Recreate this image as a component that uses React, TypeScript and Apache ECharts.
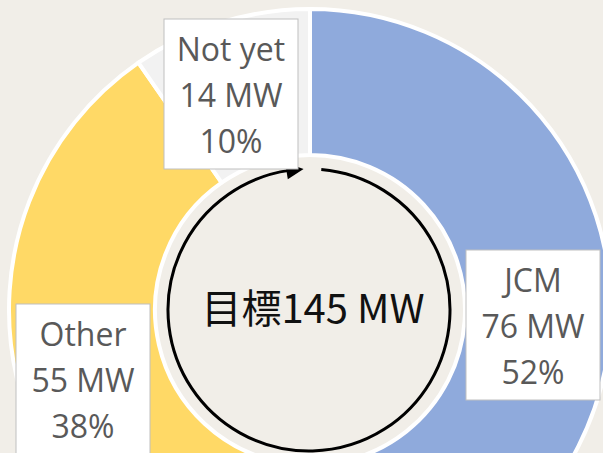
import React, { useEffect, useRef } from "react";
import * as echarts from "echarts";

const categories = ["JCM", "Other", "Not yet"];
const valuesMW = [76, 55, 14];
const unit = "MW";
const centerPrefix = "目標";
const colors = ["#8FAADC", "#FFD966", "#F2F2F2"];

const labelCenters: [number, number][] = [
  [533, 325],
  [83, 379],
  [231, 94],
];

export default function App() {
  const ref = useRef<HTMLDivElement>(null);
  useEffect(() => {
    if (!ref.current) return;
    const chart = echarts.init(ref.current, undefined, { renderer: "svg" });
    const total = valuesMW.reduce((a, b) => a + b, 0);
    const cx = 309;
    const cy = 310;
    const r = 141;
    const deg = Math.PI / 180;
    const startA = -85 * deg;
    const endA = 262 * deg;
    const tipA = 267.8 * deg;
    const baseA = 260.8 * deg;
    const hw = 8.5;
    const tip = [cx + r * Math.cos(tipA), cy + r * Math.sin(tipA)];
    const b1 = [cx + (r + hw) * Math.cos(baseA), cy + (r + hw) * Math.sin(baseA)];
    const b2 = [cx + (r - hw) * Math.cos(baseA), cy + (r - hw) * Math.sin(baseA)];

    chart.setOption({
      animation: false,
      backgroundColor: "#F1EEE8",
      series: [
        {
          type: "pie",
          center: [310, 310],
          radius: [155, 301],
          startAngle: 90,
          clockwise: true,
          avoidLabelOverlap: false,
          silent: true,
          itemStyle: { borderColor: "#FFFFFF", borderWidth: 4 },
          labelLine: { show: false },
          label: {
            show: true,
            position: "outside",
            formatter: (p: any) => `${p.name}\n${p.value} ${unit}\n${Math.round(p.percent)}%`,
            color: "#595959",
            fontSize: 32,
            fontFamily: "Open Sans",
            lineHeight: 46,
            align: "center",
            width: 121,
            backgroundColor: "#FFFFFF",
            borderColor: "#BFBFBF",
            borderWidth: 1,
            padding: [8, 6, 3, 6],
          },
          labelLayout: (params: any) => {
            const c = labelCenters[params.dataIndex];
            return { x: c[0], y: c[1], align: "center", verticalAlign: "middle", hideOverlap: false };
          },
          data: categories.map((name, i) => ({
            name,
            value: valuesMW[i],
            itemStyle: { color: colors[i] },
          })),
        },
      ],
      graphic: [
        {
          type: "arc",
          shape: { cx, cy, r, startAngle: startA, endAngle: endA, clockwise: true },
          style: { stroke: "#000000", lineWidth: 3, fill: null },
          silent: true,
        },
        {
          type: "polygon",
          shape: { points: [tip, b1, b2] },
          style: { fill: "#000000" },
          silent: true,
        },
        {
          type: "text",
          x: cx + 4,
          y: 306,
          style: {
            text: `${centerPrefix}${total} ${unit}`,
            fill: "#111111",
            font: '40px "Noto Sans CJK JP", "Noto Sans", sans-serif',
            align: "center",
            verticalAlign: "middle",
          },
          silent: true,
        },
      ],
    });
    return () => chart.dispose();
  }, []);
  return (
    <div
      ref={ref}
      style={{ position: "fixed", left: 0, top: 0, width: 603, height: 453 }}
    />
  );
}
